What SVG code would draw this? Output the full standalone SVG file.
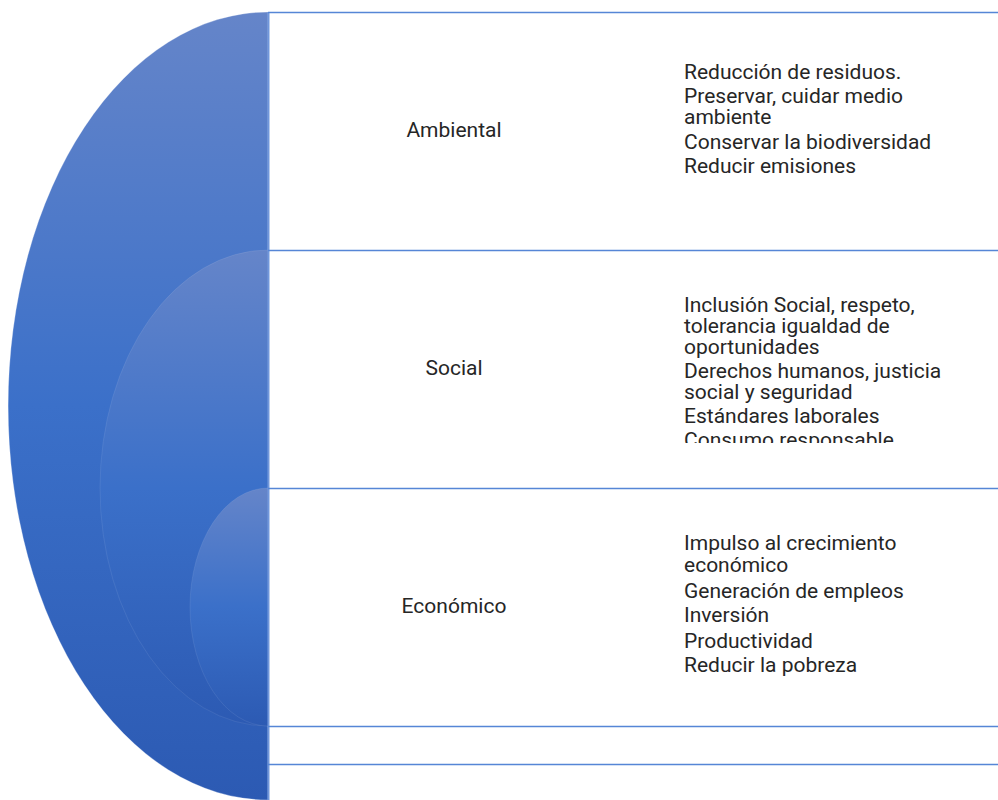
<svg xmlns="http://www.w3.org/2000/svg" width="998" height="800" viewBox="0 0 998 800">
  <style>
    .label { font-family: Roboto, "Liberation Sans", sans-serif; font-size: 21px; fill: #262626; }
    .mid { text-anchor: middle; }
    .rule { stroke: #5686d6; stroke-width: 1.6; fill: none; }
    .arc { fill: url(#blueFill); stroke: #ffffff; stroke-opacity: 0.3; stroke-width: 1; }
    .arc.inner { stroke-opacity: 0.08; }
  </style>
  <defs>
    <linearGradient id="blueFill" x1="0" y1="0" x2="0" y2="1">
      <stop offset="0" stop-color="#6585c9"/>
      <stop offset="0.5" stop-color="#3b70c9"/>
      <stop offset="1" stop-color="#2c5ab3"/>
    </linearGradient>
    <clipPath id="socialClip">
      <rect x="268" y="250" width="730" height="193"/>
    </clipPath>
  </defs>

  <rect width="998" height="800" fill="#ffffff"/>

  <!-- nested half-ellipses -->
  <g id="ambiental-arc">
    <path class="arc" d="M268,12 A260,394 0 0 0 268,800 Z"/>
  </g>
  <g id="social-arc">
    <path class="arc inner" d="M268,250 A168,238 0 0 0 268,726 Z"/>
  </g>
  <g id="economico-arc">
    <path class="arc inner" d="M268,488 A78,119 0 0 0 268,726 Z"/>
  </g>

  <!-- row separators -->
  <g id="connectors">
    <line x1="268.5" y1="12" x2="268.5" y2="800" stroke="#7197dc" stroke-width="2"/>
    <line class="rule" x1="268" y1="12.5" x2="998" y2="12.5"/>
    <line class="rule" x1="268" y1="250.5" x2="998" y2="250.5"/>
    <line class="rule" x1="268" y1="488.5" x2="998" y2="488.5"/>
    <line class="rule" x1="268" y1="726.5" x2="998" y2="726.5"/>
    <line class="rule" x1="268" y1="764.5" x2="998" y2="764.5"/>
  </g>

  <g id="ambiental">
    <text class="label mid" x="454" y="137">Ambiental</text>
    <text class="label" x="684" y="79">Reducción de residuos.</text>
    <text class="label" x="684" y="103">Preservar, cuidar medio</text>
    <text class="label" x="684" y="124">ambiente</text>
    <text class="label" x="684" y="149">Conservar la biodiversidad</text>
    <text class="label" x="684" y="173">Reducir emisiones</text>
  </g>

  <g id="social">
    <text class="label mid" x="454" y="375">Social</text>
    <g clip-path="url(#socialClip)">
      <text class="label" x="684" y="312">Inclusión Social, respeto,</text>
      <text class="label" x="684" y="333">tolerancia igualdad de</text>
      <text class="label" x="684" y="354">oportunidades</text>
      <text class="label" x="684" y="378">Derechos humanos, justicia</text>
      <text class="label" x="684" y="399">social y seguridad</text>
      <text class="label" x="684" y="423">Estándares laborales</text>
      <text class="label" x="684" y="447">Consumo responsable</text>
    </g>
  </g>

  <g id="economico">
    <text class="label mid" x="454" y="613">Económico</text>
    <text class="label" x="684" y="550">Impulso al crecimiento</text>
    <text class="label" x="684" y="572">económico</text>
    <text class="label" x="684" y="598">Generación de empleos</text>
    <text class="label" x="684" y="622">Inversión</text>
    <text class="label" x="684" y="648">Productividad</text>
    <text class="label" x="684" y="672">Reducir la pobreza</text>
  </g>
</svg>
